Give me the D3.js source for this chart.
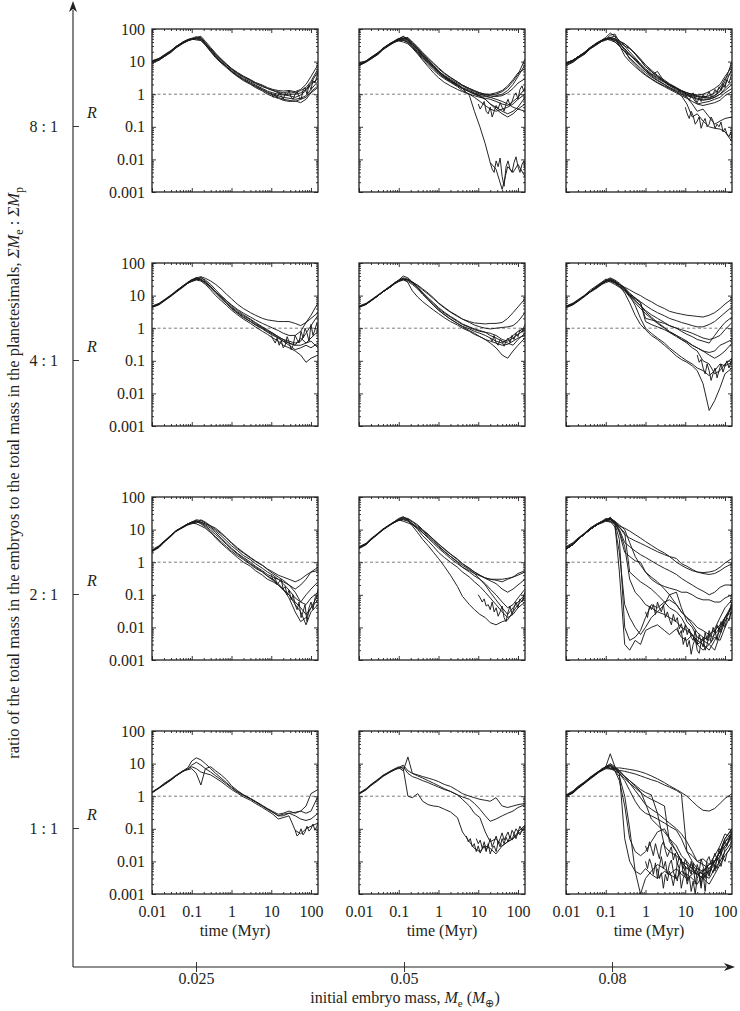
<!DOCTYPE html>
<html lang="en">
<head>
<meta charset="UTF-8">
<title>R against time, small multiples</title>
<script src="https://cdn.jsdelivr.net/npm/d3@7"></script>
<style>
  body { margin: 0; background: #fff; }
  svg text { font-family: "Liberation Serif", "Times New Roman", serif; fill: #231f20; }
</style>
</head>
<body>
<div id="chart"></div>
<script>
const _ = null;

// shared time grid (Myr) of every run
const times = [0.01, 0.015, 0.02, 0.03, 0.04, 0.06, 0.08, 0.1, 0.13, 0.17,
  0.22, 0.3, 0.4, 0.55, 0.75, 1, 1.4, 2, 3, 4,
  6, 8, 11, 15, 20, 28, 40, 55, 75, 100, 150];
// finer grid used for the noisy late-time parts
const noiseTimes = [1, 1.12, 1.26, 1.41, 1.58, 1.78, 2, 2.24, 2.51, 2.82, 3.16,
  3.55, 3.98, 4.47, 5.01, 5.62, 6.31, 7.08, 7.94, 8.91, 10, 11.2,
  12.6, 14.1, 15.8, 17.8, 20, 22.4, 25.1, 28.2, 31.6, 35.5, 39.8,
  44.7, 50.1, 56.2, 63.1, 70.8, 79.4, 89.1, 100, 112, 126, 141, 150];

const xTicks = [0.01, 0.1, 1, 10, 100];
const yTicks = [0.001, 0.01, 0.1, 1, 10, 100];
const massLabels = ["0.025", "0.05", "0.08"];
const ratioLabels = ["8 : 1", "4 : 1", "2 : 1", "1 : 1"];

// R values, one array per run
const r8_025 = [
  [10,12,15,21,29,40,47,50,52,55, 38,24,16,11,8,5.8,4.3,3.3,2.6,2.1, 1.7,1.5,1.3,1.2,1.1,1.2,1.1,1.3,1.6,2.5, 6],
  [10.5,12.5,15.5,21,28,38,45,48,50,48, 34,21,14,9.5,7,5,3.7,2.8,2.2,1.8, 1.4,1.15,1,0.9,0.8,0.75,0.7,0.75,0.9,1.4, 2.5],
  [10,12,14,20,27,37,44,47,55,60, 42,27,18,12,8.5,6.2,4.7,3.6,2.8,2.3, 1.9,1.6,1.4,1.3,1.25,1.3,1.2,1.4,2,3.5, 8],
  [9,11,14,19,26,36,43,50,46,45, 32,20,13,9,6.5,4.8,3.5,2.6,2,1.6, 1.25,1,0.85,0.75,0.65,0.6,0.62,0.55,0.7,1.1, 1.6],
  [10,12,15,21,28,39,46,49,53,50, 36,23,15,10,7.3,5.3,4,3,2.4,1.9, 1.5,1.25,1.1,1,0.95,0.9,0.8,0.95,1.3,2, 3],
  [10.5,12.5,16,22,29,40,48,52,58,52, 37,25,17,11.5,8,6,4.5,3.4,2.7,2.2, 1.8,1.5,1.3,1.1,1,1,1,1.1,1.4,2.2, 5],
  [9.5,11,14,20,27,37,44,48,50,44, 33,21,14,9.5,7,5,3.7,2.8,2.1,1.7, 1.35,1.1,0.95,0.8,0.7,0.65,0.6,0.7,0.8,1.2, 1.8]
];
const r8_05 = [
  [8,10,13,18,25,35,42,48,52,48, 35,24,16,11,7.5,5,3.5,2.6,1.9,1.5, 1.2,1,0.9,0.85,0.8,0.9,1,1.3,2,3.5, 8],
  [8.5,10.5,13.5,19,25,35,40,45,50,55, 40,28,19,13,9,6.5,4.5,3.3,2.4,1.9, 1.5,1.3,1.1,1,0.95,1,1.2,1.6,2.5,4, 12],
  [8,10,12,17,24,33,40,44,45,40, 28,18,12,8,5.5,4,3,2.3,1.7,1.3, 1,0.8,0.6,0.45,0.35,0.3,0.35,0.4,0.5,0.7, 1],
  [9,10.5,13.5,18.5,26,36,42,50,60,45, 30,20,14,9.5,6.5,4.6,3.3,2.5,1.9,1.5, 1.2,1,0.85,0.7,0.5,0.35,0.25,0.2,0.25,0.35, 0.5],
  [8,10,13,18,25,35,44,52,48,42, 32,22,15,10,7,5,3.8,2.9,2.2,1.8, 1.4,1.2,1,0.9,0.8,0.7,0.6,0.5,0.4,0.35, 0.3],
  [8,10,13,18,24,34,41,46,53,50, 38,26,18,12,8.5,6,4.3,3.2,2.4,1.9, 1.5,1.25,1.1,1,1,1.1,1.3,1.8,2.8,4.5, 6],
  [7.5,9.5,12,16.5,23,32,40,43,40,35, 26,17,11,7,4.5,3.2,2.3,1.8,1.4,1.2, 1,0.9,0.8,0.75,0.7,0.6,0.5,0.45,0.6,0.8, 1.5],
  [8,10,13,18,25,35,42,47,50,46, 34,23,15,10,7,5,3.5,2.6,2,1.5, 0.9,0.3,0.1,0.03,0.008,0.005,0.0012,0.006,0.004,0.007, 0.003],
  [8,10,13,18,25,36,44,50,58,52, 38,25,17,11,7.5,5.2,3.6,2.7,2,1.6, 1.3,1.1,0.9,0.7,0.5,0.4,0.3,0.25,0.3,0.4, 0.8],
  [8,10,13,17,24,34,42,48,45,38, 28,19,13,9,6.2,4.4,3.2,2.4,1.8,1.5, 1.2,1.05,1,0.95,0.9,0.85,0.9,1.1,1.5,2.2, 3]
];
const r8_08 = [
  [9,11,14,19,26,36,44,50,55,60, 45,30,20,13,8.5,6,4.3,3.2,2.4,1.9, 1.5,1.25,1.1,1,0.9,0.85,0.8,0.9,1.2,2, 6],
  [8,10,13,18,25,35,42,48,65,70, 40,22,12,8,5.5,4,3,2.3,1.8,1.5, 1.2,1,0.9,0.8,0.7,0.65,0.7,0.8,1,1.5, 2.5],
  [9,11,14,19,26,37,45,52,48,45, 38,30,25,18,12,8,5.5,3.8,2.7,2.1, 1.6,1.3,1.1,0.95,0.85,0.8,0.75,0.9,1.3,2.5, 10],
  [7.5,9.5,12.5,17,24,33,42,45,52,40, 32,15,10,7,5,3.8,2.9,2.2,1.7,1.4, 1.1,0.9,0.75,0.6,0.5,0.55,0.6,0.7,0.8,1.1, 1.5],
  [9,11,14,19,26,36,43,48,50,45, 35,24,16,11,7.5,5.2,3.7,2.7,2,1.6, 1.2,0.9,0.5,0.2,0.25,0.15,0.1,0.09,0.085,0.07, 0.035],
  [8.5,10,13,18,25,35,43,50,55,50, 42,35,26,17,11,7,5,3.5,2.5,2, 1.55,1,0.8,0.5,0.3,0.35,0.2,0.12,0.15,0.18, 0.2],
  [9,11,14,20,27,38,46,55,75,60, 30,20,16,12,8,5.5,4,3,2.3,1.8, 1.4,1.2,1,0.9,0.85,0.8,0.9,1.1,1.6,3, 5],
  [9,10.5,13.5,19,26,37,44,50,55,50, 42,35,26,17,11,7,5,3.5,2.5,2, 1.55,1.3,1.1,1,0.95,1,1.2,1.5,2,3.5, 7],
  [9,11,14,19,26,36,44,50,45,40, 30,20,13,9,6.3,4.6,3.4,2.6,2,1.6, 1.3,1.1,0.95,0.8,0.5,0.45,0.5,0.55,0.65,0.9, 1.2],
  [9,11,14,19,26,36,44,50,52,48, 36,25,17,11,7.5,5.3,3.9,5,2.4,1.9, 1.5,1.2,1,0.85,0.75,0.7,0.7,0.8,1,1.3, 2]
];
const r4_025 = [
  [4.5,5.5,7,10,13,19,24,28,32,35, 30,22,15,10,7,5,3.5,2.6,1.9,1.5, 1.1,0.9,0.7,0.55,0.45,0.4,0.35,0.4,0.7,1.2, 2.5],
  [4.8,5.8,7.4,10.5,13.5,20,25,30,35,38, 34,28,22,16,11,8,5.5,4,3,2.5, 2,1.8,1.7,1.6,1.6,1.6,1.4,1.2,1.5,2.5, 6],
  [4.5,5.5,7,10,13,19,24,27,30,28, 22,15,10,7,5,3.6,2.6,1.9,1.4,1.1, 0.8,0.65,0.5,0.4,0.3,0.25,0.2,0.15,0.09,0.12, 0.15],
  [4.5,5.5,7,10,13,19,25,29,36,32, 26,19,13,9,6.3,4.5,3.2,2.4,1.8,1.4, 1.05,0.85,0.7,0.55,0.45,0.35,0.3,0.3,0.35,0.5, 0.8],
  [4.5,5.5,7,10,14,20,26,31,34,30, 25,18,13,9.5,7,5.2,3.8,2.9,2.2,1.8, 1.4,1.2,1,0.85,0.7,0.6,0.6,0.8,1.5,2, 3],
  [4.3,5.2,6.7,9.5,12.5,18,24,28,31,36, 28,19,13,8.5,6,4.2,3,2.2,1.6,1.3, 1,0.8,0.65,0.5,0.4,0.35,0.3,0.5,0.35,0.4, 0.25],
  [4.5,5.5,7,10,13,19,25,30,32,30, 24,17,12,8,5.7,4,2.9,2.1,1.6,1.25, 0.95,0.75,0.6,0.5,0.4,0.3,0.22,0.25,0.3,0.25, 0.35]
];
const r4_05 = [
  [4.5,5.5,7,10,13,18,24,28,33,30, 24,17,11,7.5,5,3.6,2.6,1.9,1.4,1.15, 0.95,0.8,0.7,0.6,0.5,0.4,0.35,0.45,0.6,0.8, 1],
  [4.8,5.8,7.4,10.5,13.5,19.5,25,30,35,32, 26,20,15,11,8,5.8,4.2,3.1,2.3,1.9, 1.6,1.45,1.4,1.35,1.4,1.4,1.5,2,3,4.5, 8],
  [4.5,5.5,7,10,13,18,23,27,30,27, 22,16,11,7.5,5,3.6,2.6,1.9,1.4,1.1, 0.85,0.7,0.55,0.45,0.35,0.25,0.15,0.12,0.2,0.3, 0.5],
  [4.5,5.5,7,10,13,18,24,30,40,35, 26,18,12,8,5.5,4,2.9,2.2,1.6,1.3, 1.05,0.9,0.8,0.75,0.7,0.6,0.45,0.4,0.5,0.65, 0.9],
  [4.3,5.3,6.8,9.7,13.5,18.5,25,29,33,25, 14,9,6.5,4.8,3.6,2.8,2.1,1.6,1.25,1, 0.8,0.65,0.55,0.45,0.4,0.35,0.3,0.32,0.4,0.5, 0.6],
  [4.5,5.5,7,10,13,18,24,28,32,30, 26,21,16,12,8.5,6,4.4,3.2,2.4,1.9, 1.5,1.25,1.1,1,0.95,1,1.05,1.1,1.2,1.6, 3],
  [4.5,5.5,7,10,13,19,25,29,31,30, 25,18,12.5,8.5,6,4.3,3.1,2.3,1.7,1.35, 1.1,0.95,0.85,0.75,0.6,0.5,0.4,0.35,0.3,0.45, 0.7]
];
const r4_08 = [
  [4.2,5.2,6.6,9.5,12.5,17,22,25,28,26, 22,18,15,12,10,8,6.5,5,4,3.3, 2.9,2.7,2.5,2.4,2.3,2.2,2.5,3,4,5.5, 8],
  [4.5,5.5,7,10,13,19,24,28,30,25, 20,15,11,8.5,6.5,5,3.8,3,2.4,2, 1.7,1.5,1.35,1.2,1.1,1.1,1.3,1.6,2.2,3, 4.5],
  [4.5,5.5,7,10,13,18,23,30,26,22, 18,14,10,7,5,3.5,2.6,2,1.5,1.2, 1,0.8,0.65,0.55,0.45,0.4,0.35,0.6,1,1.5, 2.2],
  [4.5,5.5,7,10,13,19,24,27,33,28, 22,16,10,8,6,2,1.8,1.6,1.4,1.2, 1,0.9,0.8,0.7,0.6,0.5,0.45,0.5,0.6,0.9, 1.5],
  [4.8,5.9,7.5,10.5,14.5,20.5,26,32,28,24, 19,14,9,6,4,2.8,2,1.4,1,0.75, 0.55,0.45,0.38,0.3,0.25,0.2,0.18,0.2,0.3,0.35, 0.45],
  [4.5,5.5,7,10,13,18,23,27,30,26, 20,12,6,2.5,1.3,0.9,0.6,0.45,0.3,0.22, 0.14,0.11,0.09,0.07,0.05,0.02,0.003,0.006,0.015,0.04, 0.06],
  [4.5,5.5,7,10,13,18,24,30,35,30, 24,17,10,5,2,1,0.7,0.5,0.35,0.25, 0.17,0.13,0.1,0.08,0.06,0.05,0.035,0.05,0.08,0.07, 0.09],
  [4.5,5.5,7,10,13,19,25,28,30,27, 22,17,12,8.5,6,1.6,1.3,1.1,0.9,0.75, 0.6,0.5,0.4,0.3,0.25,0.2,0.15,0.12,0.15,0.2, 0.35],
  [4.5,5.5,7,10,13,18,23,28,32,27, 22,16,11,7,4.8,3.2,2.2,1.5,1.05,0.8, 0.6,0.45,0.35,0.25,0.2,0.1,0.08,0.04,0.05,0.08, 0.12]
];
const r2_025 = [
  [2.2,3,4.2,6.5,9,12,15,16,18,17, 14,11,8,5.5,3.8,2.7,1.9,1.4,1,0.75, 0.55,0.42,0.35,0.3,0.25,0.2,0.15,0.2,0.3,0.5, 0.7],
  [2.4,3.2,4.4,6.8,9.3,12.5,15,17,20,19, 16,12,9,6.5,4.5,3.2,2.3,1.6,1.2,0.9, 0.65,0.5,0.4,0.3,0.22,0.14,0.08,0.06,0.1,0.15, 0.25],
  [2.1,2.8,4,6.2,8.7,11.5,14,16,15,13, 11,8,6,4.2,3,2.2,1.6,1.2,0.85,0.65, 0.5,0.38,0.3,0.22,0.15,0.08,0.03,0.015,0.02,0.04, 0.07],
  [2.2,3,4.2,6.5,9,12,15,17,16,20, 17,13,10,7.5,5.5,4,2.8,2,1.4,1.1, 0.8,0.6,0.45,0.35,0.28,0.2,0.12,0.06,0.05,0.08, 0.12],
  [2.2,3,4.2,6.5,9,12,15,16,18,15, 12,8.5,5.5,3.8,2.7,2,1.4,1,0.75,0.55, 0.4,0.3,0.25,0.2,0.15,0.1,0.05,0.03,0.012,0.03, 0.05],
  [2.2,3,4.2,6.5,9,12,15,17,19,17, 15,13,11,8,5.5,3.8,2.6,1.9,1.35,1.05, 0.8,0.62,0.5,0.4,0.35,0.3,0.25,0.3,0.4,0.5, 0.55],
  [2.2,3,4.2,6.5,9,12,14,15,17,16, 13,9.5,7,5,3.5,2.5,1.8,1.3,0.9,0.7, 0.5,0.37,0.28,0.2,0.14,0.1,0.06,0.04,0.025,0.04, 0.1]
];
const r2_05 = [
  [2.8,3.6,5,7.5,10,14,17,20,22,20, 15,11,8,5.5,3.8,2.7,1.9,1.3,0.9,0.7, 0.55,0.45,0.38,0.33,0.3,0.3,0.3,0.32,0.35,0.45, 0.55],
  [2.8,3.6,5,7.5,10,14,18,22,25,20, 13,8,5,3.2,2,1.3,0.75,0.4,0.18,0.09, 0.05,0.035,0.025,0.02,0.014,0.012,0.015,0.017,0.03,0.05, 0.08],
  [2.8,3.6,5,7.5,10,14,17,19,20,18, 15,12,9,6.5,4.5,3.2,2.2,1.5,1,0.7, 0.5,0.38,0.3,0.22,0.15,0.1,0.06,0.04,0.05,0.08, 0.15],
  [2.8,3.6,5,7.5,10,14,17,20,18,16, 14,11,8,6,4.2,3,2.1,1.5,1.05,0.8, 0.6,0.45,0.3,0.2,0.12,0.07,0.04,0.025,0.04,0.06, 0.1],
  [3,3.8,5.3,7.8,10.5,14.5,18,21,23,22, 18,14,10,7.2,5,3.6,2.6,1.8,1.25,0.9, 0.65,0.5,0.4,0.32,0.27,0.22,0.15,0.12,0.15,0.2, 0.3],
  [2.6,3.4,4.8,7.2,9.7,13.5,17,19,21,19, 15,10,6.5,4.5,3,2,1.4,1,0.7,0.5, 0.35,0.25,0.18,0.12,0.08,0.05,0.03,0.02,0.025,0.04, 0.06],
  [2.8,3.6,5,7.5,10,14,17,20,24,21, 17,13,9.5,7,5,3.6,2.5,1.75,1.2,0.9, 0.65,0.5,0.4,0.33,0.3,0.28,0.25,0.3,0.35,0.4, 0.5]
];
const r2_08 = [
  [2.5,3.5,5,7.5,10,14,17,19,20,16, 13,11,9,7,5.5,4.3,3.3,2.5,1.9,1.5, 1,0.8,0.65,0.55,0.5,0.48,0.5,0.55,0.7,0.95, 1.3],
  [3,4,5.5,8,11,15,18,22,20,17, 12,7,5.5,4.5,3.8,3.2,2.6,2.1,1.7,1.5, 1.3,0.9,0.75,0.6,0.5,0.45,0.42,0.45,0.55,0.7, 0.9],
  [2.5,3.5,5,7.5,10,14,17,20,22,18, 10,4,3,2.2,1.7,1.4,1.1,0.85,0.65,0.55, 0.42,0.32,0.25,0.2,0.16,0.13,0.1,0.12,0.17,0.2, 0.2],
  [2.8,3.8,5.2,7.8,11,15,18,20,23,17, 8,2,1.5,1.1,1,0.5,0.3,0.22,0.18,0.16, 0.14,0.12,0.12,0.1,0.08,0.07,0.07,0.06,0.06,0.08, 0.1],
  [2.5,3.5,5,7.5,10,14,17,19,24,15, 0.5,0.003,0.002,0.004,0.003,0.008,0.01,0.012,0.008,0.006, 0.009,0.005,0.004,0.006,0.003,0.004,0.006,0.008,0.012,0.02, 0.04],
  [2.5,3.5,5,7.5,10,14,17,20,18,12, 2,0.05,0.02,0.01,0.006,0.01,0.02,0.03,0.05,0.1, 0.12,0.04,0.015,0.01,0.005,0.004,0.003,0.002,0.006,0.015, 0.05],
  [2.8,3.6,5,7.5,10,14,17,20,21,15, 5,0.01,0.004,0.005,0.008,0.02,0.05,0.04,0.06,0.07, 0.05,0.03,0.02,0.015,0.01,0.008,0.006,0.009,0.02,0.04, 0.07],
  [2.5,3.5,5,7.5,10,14,17,19,18,16, 9,3,0.3,0.12,0.08,0.05,0.04,0.03,0.025,0.02, 0.015,0.01,0.008,0.006,0.004,0.003,0.002,0.004,0.008,0.02, 0.05],
  [2.5,3.5,5,7.5,10,14,17,20,22,18, 14,10,4,1.5,0.8,0.5,0.35,0.25,0.15,0.1, 0.05,0.03,0.02,0.012,0.007,0.005,0.004,0.006,0.01,0.02, 0.03],
  [2.5,3.5,5,7.5,10,14,16,18,17,15, 12,8,0.5,0.35,0.25,0.2,0.15,0.1,0.06,0.04, 0.03,0.02,0.01,0.006,0.003,0.002,0.003,0.005,0.004,0.01, 0.03]
];
const r1_025 = [
  [1.3,1.8,2.3,3.2,4.2,6,7.5,12,15,13, 10,7,5,3.6,2.6,1.9,1.4,1.1,0.85,0.7, 0.52,0.42,0.34,0.28,0.3,0.35,0.3,0.35,0.5,1.2, 1.6],
  [1.35,1.85,2.45,3.4,4.4,6,6.5,7,5,2.2, 7,8,6,4.5,3.2,2.1,1.5,1.1,0.85,0.68, 0.5,0.4,0.32,0.25,0.28,0.3,0.32,0.35,0.3,0.35, 1],
  [1.3,1.8,2.3,3.2,4.2,5.7,6.8,8,7,5.5, 5,4.5,3.6,2.8,2.1,1.6,1.25,0.95,0.75,0.6, 0.45,0.36,0.28,0.2,0.22,0.25,0.09,0.07,0.1,0.12, 0.15],
  [1.25,1.75,2.2,3.1,4.1,5.8,7,9,11,9, 7,5.5,4.2,3.2,2.4,1.8,1.35,1.05,0.82,0.66, 0.5,0.4,0.32,0.25,0.25,0.3,0.25,0.2,0.18,0.2, 0.3]
];
const r1_05 = [
  [1.2,1.6,2.2,3.2,4.2,5.5,6.5,7.5,6,16, 5,4.5,4,3.6,3.2,2.8,2.3,2,1.5,1.2, 1,0.9,0.8,0.75,0.7,0.9,0.5,0.45,0.5,0.55, 0.6],
  [1.25,1.7,2.3,3.3,4.4,5.7,6.8,7,8,5, 4,3.5,3,2.6,2.2,1.9,1.6,1.4,1.1,0.95, 0.8,0.6,0.4,0.25,0.17,0.2,0.25,0.3,0.35,0.45, 0.55],
  [1.2,1.6,2.2,3.2,4.2,5.8,7,8,7,1, 0.9,1.2,0.7,0.55,0.5,0.48,0.4,0.33,0.22,0.08, 0.04,0.025,0.02,0.03,0.025,0.017,0.03,0.04,0.05,0.08, 0.13],
  [1.15,1.55,2.1,3,4,5.4,6.5,7.5,9,6, 5,4.2,3.6,3,2.5,2.1,1.7,1.4,1.1,0.8, 0.5,0.3,0.22,0.08,0.04,0.05,0.03,0.04,0.05,0.07, 0.1]
];
const r1_08 = [
  [1,1.3,1.8,2.6,3.5,5,6,7,6.8,7.2, 7.4,7,6.6,6.2,5.6,5,4.2,3.4,2.6,2.1, 1.6,1.3,1,0.7,0.5,0.37,0.35,0.42,0.6,0.85, 1.2],
  [1,1.3,1.8,2.6,3.5,5,6.5,8,7,6.5, 6.2,5.8,5.3,4.8,4.2,3.7,3.2,2.8,2.2,1.9, 1.5,1.2,0.02,0.015,0.01,0.012,0.008,0.01,0.02,0.04, 0.08],
  [1,1.3,1.8,2.6,3.5,5,6.5,8,9,7, 5,3.5,2.5,1.8,1.3,1,0.8,0.65,0.5,0.04, 0.02,0.01,0.008,0.006,0.004,0.005,0.008,0.015,0.03,0.07, 0.05],
  [1.05,1.4,1.9,2.8,3.7,5.3,7,8,20,8, 6,4,2.5,1.5,0.9,0.55,0.4,0.3,0.2,0.15, 0.1,0.07,0.04,0.02,0.01,0.008,0.006,0.01,0.02,0.05, 0.1],
  [1,1.3,1.8,2.6,3.5,5,6.5,8,7,6, 5,0.05,0.01,0.005,0.004,0.006,0.004,0.003,0.005,0.004, 0.006,0.004,0.003,0.004,0.006,0.005,0.008,0.01,0.02,0.04, 0.06],
  [0.95,1.25,1.7,2.5,3.3,4.8,6.5,7.5,9,6, 4,1,0.1,0.005,0.001,0.003,0.005,0.008,0.006,0.004, 0.003,0.005,0.004,0.003,0.002,0.004,0.003,0.006,0.01,0.02, 0.04],
  [1,1.3,1.8,2.6,3.5,5,6.5,8,10,8, 6,4,3,2,1.4,0.6,0.2,0.13,0.08,0.05, 0.03,0.015,0.01,0.006,0.004,0.003,0.002,0.004,0.008,0.015, 0.03],
  [1.1,1.45,2,2.8,3.8,5.4,6.5,8,9,7.5, 5,3,1.5,0.7,0.4,0.3,0.25,0.2,0.15,0.12, 0.09,0.05,0.02,0.01,0.006,0.004,0.005,0.01,0.02,0.05, 0.1],
  [1,1.3,1.8,2.6,3.5,5,6.5,8,8,7, 5.5,4,3,2.2,1.6,1.3,1.1,0.3,0.03,0.02, 0.015,0.01,0.006,0.008,0.005,0.004,0.006,0.01,0.02,0.03, 0.05],
  [1,1.3,1.8,2.6,3.5,5,6.5,7,8,6, 3,0.5,0.05,0.02,0.015,0.02,0.04,0.08,0.1,0.05, 0.02,0.01,0.006,0.005,0.004,0.003,0.005,0.008,0.015,0.03, 0.06]
];

// noisy late-time traces on the fine grid
const n8_025 = [
  [_,_,_,_,_,_,_,_,_,_,_, _,_,_,_,_,_,_,_,_,1.1,0.8, 1,0.75,1.15,0.9,0.7,1.05,0.95,1.3,0.8,0.7,1, 1.2,0.85,0.7,1.3,1.6,1,1.9,1.4,2.6,2.2,3.5,5]
];
const n8_05 = [
  [_,_,_,_,_,_,_,_,_,_,_, _,_,_,_,_,_,_,_,_,_,_, _,_,_,_,0.008,0.005,0.004,0.009,0.006,0.011,0.003, 0.0015,0.006,0.009,0.005,0.004,0.008,0.012,0.006,0.004,0.007,0.009,0.005],
  [_,_,_,_,_,_,_,_,_,_,_, _,_,_,_,_,_,_,_,_,0.5,0.35, 0.45,0.6,0.3,0.25,0.4,0.2,0.3,0.45,0.35,0.55,0.4, 0.3,0.5,0.7,0.45,0.6,0.9,1.1,0.7,1.4,1.8,1.2,1.6]
];
const n8_08 = [
  [_,_,_,_,_,_,_,_,_,_,_, _,_,_,_,_,_,_,_,_,0.4,0.25, 0.18,0.3,0.22,0.12,0.15,0.2,0.09,0.14,0.18,0.1,0.12, 0.2,0.15,0.09,0.12,0.1,0.14,0.07,0.09,0.06,0.05,0.07,0.04],
  [_,_,_,_,_,_,_,_,_,_,_, _,_,_,_,_,_,_,_,_,1,0.8, 0.65,0.9,1.1,0.7,0.55,0.8,0.6,1,0.75,0.9,1.2, 0.85,1,1.4,1.1,1.7,1.3,2.1,1.6,2.8,2.2,3.5,4]
];
const n4_025 = [
  [_,_,_,_,_,_,_,_,_,_,_, _,_,_,_,_,_,_,_,_,0.6,0.45, 0.35,0.5,0.3,0.42,0.25,0.3,0.55,0.38,0.22,0.3,0.6, 0.45,0.35,0.8,0.5,1,0.7,0.4,1.3,0.6,0.9,1.5,0.8]
];
const n4_05 = [
  [_,_,_,_,_,_,_,_,_,_,_, _,_,_,_,_,_,_,_,_,_,_, _,_,_,_,0.5,0.4,0.6,0.35,0.3,0.45,0.38, 0.28,0.4,0.5,0.36,0.6,0.45,0.7,0.55,0.9,0.75,1.1,1.3]
];
const n4_08 = [
  [_,_,_,_,_,_,_,_,_,_,_, _,_,_,_,_,_,_,_,_,_,_, _,_,_,_,0.15,0.09,0.11,0.06,0.04,0.08,0.05, 0.025,0.04,0.06,0.03,0.05,0.08,0.045,0.07,0.1,0.06,0.09,0.12]
];
const n2_025 = [
  [_,_,_,_,_,_,_,_,_,_,_, _,_,_,_,_,_,_,_,_,0.4,0.28, 0.33,0.2,0.25,0.3,0.15,0.18,0.1,0.14,0.07,0.1,0.05, 0.035,0.06,0.02,0.03,0.05,0.015,0.04,0.06,0.035,0.08,0.1,0.15]
];
const n2_05 = [
  [_,_,_,_,_,_,_,_,_,_,_, _,_,_,_,_,_,_,_,_,0.1,0.08, 0.06,0.075,0.045,0.05,0.035,0.06,0.03,0.04,0.022,0.03,0.045, 0.02,0.015,0.03,0.045,0.025,0.04,0.06,0.04,0.075,0.06,0.1,0.12]
];
const n2_08 = [
  [0.03,0.02,0.045,0.035,0.05,0.025,0.06,0.04,0.03,0.05,0.02, 0.03,0.018,0.012,0.025,0.015,0.02,0.009,0.013,0.007,0.012,0.006, 0.009,0.005,0.004,0.008,0.003,0.006,0.0035,0.0025,0.007,0.004,0.008, 0.005,0.01,0.007,0.012,0.008,0.015,0.011,0.02,0.025,0.03,0.045,0.06],
  [_,_,_,_,_,_,_,_,_,_,_, _,_,_,_,_,0.01,0.006,0.008,0.003,0.005,0.0025, 0.004,0.0015,0.003,0.0045,0.002,0.0016,0.0035,0.005,0.002,0.003,0.006, 0.0035,0.005,0.008,0.004,0.01,0.007,0.014,0.01,0.02,0.016,0.03,0.05]
];
const n1_025 = [
  [_,_,_,_,_,_,_,_,_,_,_, _,_,_,_,_,_,_,_,_,_,_, _,_,_,_,_,_,_,_,_,_,0.09, 0.06,0.07,0.1,0.065,0.08,0.12,0.085,0.1,0.14,0.09,0.12,0.16]
];
const n1_05 = [
  [_,_,_,_,_,_,_,_,_,_,_, _,_,_,0.06,0.04,0.05,0.028,0.035,0.02,0.03,0.018, 0.025,0.04,0.022,0.03,0.05,0.028,0.04,0.06,0.035,0.05,0.075, 0.045,0.06,0.08,0.05,0.09,0.07,0.1,0.08,0.12,0.09,0.11,0.13],
  [_,_,_,_,_,_,_,_,_,_,_, _,_,_,_,_,_,_,_,0.05,0.035,0.045, 0.025,0.03,0.02,0.035,0.017,0.025,0.03,0.02,0.04,0.028,0.05, 0.035,0.055,0.04,0.06,0.045,0.07,0.05,0.08,0.065,0.09,0.1,0.12]
];
const n1_08 = [
  [0.01,0.006,0.012,0.008,0.004,0.009,0.003,0.007,0.014,0.006,0.01, 0.004,0.008,0.011,0.005,0.003,0.009,0.006,0.012,0.004,0.007,0.0025, 0.006,0.004,0.009,0.002,0.005,0.0035,0.0015,0.006,0.003,0.008,0.004, 0.006,0.011,0.005,0.014,0.009,0.02,0.012,0.025,0.03,0.045,0.06,0.09],
  [0.03,0.02,0.04,0.025,0.015,0.035,0.02,0.012,0.03,0.04,0.022, 0.014,0.02,0.028,0.011,0.018,0.008,0.014,0.01,0.006,0.012,0.008, 0.005,0.01,0.006,0.004,0.008,0.005,0.012,0.007,0.005,0.011,0.014, 0.008,0.012,0.018,0.011,0.025,0.018,0.03,0.04,0.03,0.05,0.065,0.08],
  [_,_,_,_,_,_,0.006,0.003,0.0045,0.0015,0.004, 0.0025,0.005,0.0035,0.0018,0.004,0.0025,0.006,0.0015,0.003,0.0045,0.002, 0.0035,0.0012,0.0025,0.001,0.003,0.0045,0.0018,0.004,0.0012,0.005,0.0035, 0.006,0.0045,0.008,0.006,0.01,0.007,0.013,0.01,0.018,0.022,0.03,0.05]
];

// rows: embryo:planetesimal ratio, columns: initial embryo mass
const runs = [
  [r8_025, r8_05, r8_08],
  [r4_025, r4_05, r4_08],
  [r2_025, r2_05, r2_08],
  [r1_025, r1_05, r1_08]
];
const noiseRuns = [
  [n8_025, n8_05, n8_08],
  [n4_025, n4_05, n4_08],
  [n2_025, n2_05, n2_08],
  [n1_025, n1_05, n1_08]
];

const colX = [152, 359, 566];
const rowY = [29, 263, 497, 731];
const PW = 166, PH = 163;
const ink = "#231f20";

const svg = d3.select("#chart").append("svg")
  .attr("width", 740).attr("height", 1011);

const x = d3.scaleLog().domain([0.01, 150]).range([0, PW]);
const y = d3.scaleLog().domain([0.001, 100]).range([PH, 0]);
const line = d3.line()
  .defined(d => d[1] != null)
  .x(d => x(d[0]))
  .y(d => y(d[1]));

const minorX = [], minorY = [];
for (let e = -2; e <= 2; e++) for (let m = 2; m <= 9; m++) {
  const v = m * Math.pow(10, e);
  if (v < 150) minorX.push(v);
}
for (let e = -3; e <= 1; e++) for (let m = 2; m <= 9; m++) minorY.push(m * Math.pow(10, e));

svg.append("defs").append("clipPath").attr("id", "pclip")
  .append("rect").attr("width", PW).attr("height", PH);

const fmt = d3.format("~g");

runs.forEach((row, r) => row.forEach((series, c) => {
  const g = svg.append("g").attr("transform", `translate(${colX[c]},${rowY[r]})`);

  g.append("line")
    .attr("x1", 0).attr("x2", PW)
    .attr("y1", y(1)).attr("y2", y(1))
    .attr("stroke", "#6d6d6d").attr("stroke-width", 0.9)
    .attr("stroke-dasharray", "3,2.5");

  const traces = series.map(s => times.map((t, i) => [t, s[i]]))
    .concat(noiseRuns[r][c].map(s => noiseTimes.map((t, i) => [t, s[i]])));

  g.append("g").attr("clip-path", "url(#pclip)")
    .selectAll("path").data(traces).join("path")
    .attr("d", line)
    .attr("fill", "none")
    .attr("stroke", "#1a1a1a")
    .attr("stroke-width", 0.95)
    .attr("stroke-linejoin", "round");

  // major and minor ticks, all pointing inwards
  const sides = [
    [d3.axisBottom, x, [0, PH], r === 3],
    [d3.axisTop, x, [0, 0], false],
    [d3.axisLeft, y, [0, 0], c === 0],
    [d3.axisRight, y, [PW, 0], false]
  ];
  sides.forEach(([axisFn, sc, pos, labelled]) => {
    const major = axisFn(sc).tickValues(sc === x ? xTicks : yTicks)
      .tickSize(-4)
      .tickPadding(sc === x ? 12 : 7)
      .tickFormat(labelled ? fmt : "");
    const minor = axisFn(sc).tickValues(sc === x ? minorX : minorY)
      .tickSize(-2).tickFormat("");
    [major, minor].forEach(ax => {
      const a = g.append("g").attr("transform", `translate(${pos[0]},${pos[1]})`).call(ax);
      a.select(".domain").remove();
      a.attr("font-size", 16).attr("font-family", null);
      a.selectAll("line").attr("stroke", ink).attr("stroke-width", 0.9);
    });
  });

  g.append("rect")
    .attr("width", PW).attr("height", PH)
    .attr("fill", "none").attr("stroke", ink).attr("stroke-width", 1.3);

  if (r === 3) {
    g.append("text")
      .attr("x", PW / 2).attr("y", PH + 42)
      .attr("text-anchor", "middle").attr("font-size", 16)
      .text("time (Myr)");
  }
}));

// outer axes: embryo mass along the bottom, mass ratio up the side
const axisY = 967, axisX = 73;
const massScale = d3.scalePoint().domain(massLabels).range([196, 612]);
const ratioScale = d3.scalePoint().domain(ratioLabels).range([rowY[0] + 97, rowY[3] + 97]);

svg.append("line")
  .attr("x1", axisX).attr("x2", 726).attr("y1", axisY).attr("y2", axisY)
  .attr("stroke", ink).attr("stroke-width", 1.1);
svg.append("path")
  .attr("d", `M735,${axisY} L724,${axisY - 4} L727,${axisY} L724,${axisY + 4} Z`)
  .attr("fill", ink);
svg.append("line")
  .attr("x1", axisX).attr("x2", axisX).attr("y1", axisY).attr("y2", 10)
  .attr("stroke", ink).attr("stroke-width", 1.1);
svg.append("path")
  .attr("d", `M${axisX},1 L${axisX - 4},12 L${axisX},9 L${axisX + 4},12 Z`)
  .attr("fill", ink);

const bottomAxis = svg.append("g")
  .attr("transform", `translate(0,${axisY})`)
  .call(d3.axisBottom(massScale).tickSize(5).tickPadding(1));
bottomAxis.select(".domain").remove();
bottomAxis.attr("font-size", 16).attr("font-family", null);
bottomAxis.selectAll(".tick line").attr("y1", -5).attr("stroke", ink).attr("stroke-width", 0.9);

const sideAxis = svg.append("g")
  .attr("transform", `translate(${axisX},0)`)
  .call(d3.axisLeft(ratioScale).tickSize(6).tickPadding(9));
sideAxis.select(".domain").remove();
sideAxis.attr("font-size", 16).attr("font-family", null);
sideAxis.selectAll(".tick line").attr("x2", 6).attr("stroke", ink).attr("stroke-width", 0.9);

svg.selectAll(null).data(rowY).join("text")
  .attr("x", 92).attr("y", d => d + 89)
  .attr("text-anchor", "middle")
  .attr("font-size", 16).attr("font-style", "italic")
  .text("R");

// axis titles
const xTitle = svg.append("text")
  .attr("x", 405).attr("y", 1003)
  .attr("text-anchor", "middle").attr("font-size", 16);
xTitle.append("tspan").text("initial embryo mass, ");
xTitle.append("tspan").attr("font-style", "italic").text("M");
xTitle.append("tspan").attr("dy", 4).attr("font-size", 11).text("e");
xTitle.append("tspan").attr("dy", -4).text(" (");
xTitle.append("tspan").attr("font-style", "italic").text("M");
xTitle.append("tspan").attr("dy", 4).attr("font-size", 11).text("\u2295");
xTitle.append("tspan").attr("dy", -4).text(")");

const yTitle = svg.append("text")
  .attr("transform", "translate(19,187) rotate(-90)")
  .attr("text-anchor", "end").attr("font-size", 16.5);
yTitle.append("tspan").text("ratio of the total mass in the embryos to the total mass in the planetesimals, ");
yTitle.append("tspan").attr("font-style", "italic").text("\u03A3M");
yTitle.append("tspan").attr("dy", 4).attr("font-size", 12).text("e");
yTitle.append("tspan").attr("dy", -4).text(" : ");
yTitle.append("tspan").attr("font-style", "italic").text("\u03A3M");
yTitle.append("tspan").attr("dy", 4).attr("font-size", 12).text("p");
</script>
</body>
</html>
